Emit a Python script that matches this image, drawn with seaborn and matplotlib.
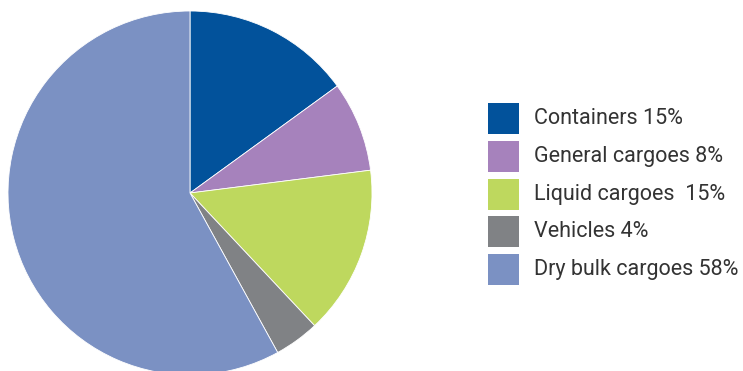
import matplotlib
matplotlib.use("Agg")
import matplotlib.pyplot as plt
from matplotlib.patches import Rectangle
import seaborn as sns

categories = ["Containers", "General cargoes", "Liquid cargoes", "Vehicles", "Dry bulk cargoes"]
shares = [15, 8, 15, 4, 58]
legend_labels = ["Containers 15%", "General cargoes 8%", "Liquid cargoes  15%",
                 "Vehicles 4%", "Dry bulk cargoes 58%"]
colors = ["#02529B", "#A682BC", "#BED85E", "#808285", "#7B91C3"]

sns.set_theme(style="white")
plt.rcParams["font.family"] = ["Roboto", "DejaVu Sans"]

W, H = 743, 371
fig = plt.figure(figsize=(W / 100, H / 100), dpi=100)
fig.patch.set_facecolor("white")

# Pie: centre at (190, 193) px, radius 182 px
cx, cy, r = 190, 193, 182
ax = fig.add_axes([(cx - r) / W, (H - cy - r) / H, 2 * r / W, 2 * r / H])
ax.pie(shares, colors=sns.color_palette(colors), startangle=90, counterclock=False,
       wedgeprops=dict(linewidth=0.6, edgecolor="white"))
ax.set_xlim(-1, 1)
ax.set_ylim(-1, 1)
ax.set_aspect("equal")
ax.axis("off")

# Legend drawn as swatches and labels in pixel positions
row_top = 103
row_step = 37.8
sw = 31
for i, (lab, col) in enumerate(zip(legend_labels, colors)):
    top = row_top + i * row_step
    fig.patches.append(Rectangle((488 / W, (H - top - sw) / H), sw / W, sw / H,
                                 transform=fig.transFigure, facecolor=col,
                                 edgecolor="none"))
    fig.text(534 / W, (H - top - sw / 2) / H, lab, fontsize=15.5, color="#333333",
             va="center", ha="left")

fig.savefig("out.png", dpi=100)
